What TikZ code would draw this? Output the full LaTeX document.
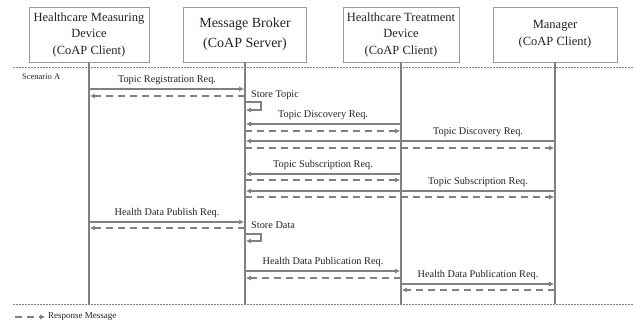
\documentclass[tikz,border=0pt]{standalone}
\usepackage{fontspec}
\setmainfont{Liberation Serif}
\usepackage{xcolor}
\usepackage{tikz}
\usetikzlibrary{arrows.meta}
\definecolor{seqGray}{RGB}{128,128,128}
\definecolor{seqText}{RGB}{35,35,35}
\tikzset{
    devbox/.style={rectangle, draw=seqGray!80, line width=0.7pt, fill=white, align=center,
        text=seqText, minimum height=55pt, inner sep=2pt},
    lifeline/.style={draw=seqGray, line width=1.8pt},
    reqarrow/.style={-{Latex[length=5pt, width=5pt]}, seqGray, line width=1.3pt, shorten >=0.8pt},
    resparrow/.style={-{Latex[length=5pt, width=5pt]}, seqGray, line width=1.8pt,
        dash pattern=on 7pt off 5pt, shorten >=0.8pt},
    msglabel/.style={above=1pt, text=seqText, font=\fontsize{10.3}{12}\selectfont, inner sep=3pt},
    notelabel/.style={anchor=west, text=seqText, inner sep=2pt},
    sepline/.style={seqGray, line width=0.5pt, dash pattern=on 2pt off 1pt},
}

\begin{document}
\begin{tikzpicture}[x=1pt, y=-1pt]
    \useasboundingbox (0,0) rectangle (634,326);

    % participants
    \node[devbox, minimum width=120pt, font=\fontsize{12.5}{16.5}\selectfont] (hmd) at (89,34.5) {Healthcare Measuring\\Device\\(CoAP Client)};
    \node[devbox, minimum width=123pt, font=\fontsize{14}{20}\selectfont] (brk) at (245,34.5) {Message Broker\\(CoAP Server)};
    \node[devbox, minimum width=116pt, font=\fontsize{12.5}{16.5}\selectfont] (hcd) at (401,34.5) {Healthcare Treatment\\Device\\(CoAP Client)};
    \node[devbox, minimum width=124pt, font=\fontsize{12.5}{17}\selectfont] (mgr) at (555,34.5) {Manager\\(CoAP Client)};

    \draw[sepline] (13,67) -- (634,67);
    \draw[sepline] (13,304) -- (634,304);

    \coordinate (seqend) at (0,304);
    \foreach \p in {hmd,brk,hcd,mgr}
        \draw[lifeline] (\p.south) -- (\p.south |- seqend);

    \node[notelabel, font=\fontsize{8.5}{10}\selectfont] (scnA) at (20,77) {Scenario A};

    % topic registration
    \draw[reqarrow] (hmd |- 0,89) -- node[msglabel] {Topic Registration Req.} (brk |- 0,89);
    \draw[resparrow] (brk |- 0,96) -- (hmd |- 0,96);
    \node[notelabel, font=\fontsize{10.3}{12}\selectfont] (sttopic) at (249,95) {Store Topic};
    \draw[reqarrow] (brk |- 0,102) -- ++(16,0) -- ++(0,8) -- (brk |- 0,110);

    % topic discovery
    \draw[reqarrow] (hcd |- 0,124) -- node[msglabel] {Topic Discovery Req.} (brk |- 0,124);
    \draw[resparrow] (brk |- 0,131) -- (hcd |- 0,131);
    \draw[reqarrow] (mgr |- 0,141) -- (brk |- 0,141);
    \path (hcd |- 0,141) -- node[msglabel] {Topic Discovery Req.} (mgr |- 0,141);
    \draw[resparrow] (brk |- 0,148) -- (mgr |- 0,148);

    % topic subscription
    \draw[reqarrow] (hcd |- 0,174) -- node[msglabel] {Topic Subscription Req.} (brk |- 0,174);
    \draw[resparrow] (brk |- 0,180) -- (hcd |- 0,180);
    \draw[reqarrow] (mgr |- 0,191) -- (brk |- 0,191);
    \path (hcd |- 0,191) -- node[msglabel] {Topic Subscription Req.} (mgr |- 0,191);
    \draw[resparrow] (brk |- 0,197) -- (mgr |- 0,197);

    % health data
    \draw[reqarrow] (hmd |- 0,222) -- node[msglabel] {Health Data Publish Req.} (brk |- 0,222);
    \draw[resparrow] (brk |- 0,228) -- (hmd |- 0,228);
    \node[notelabel, font=\fontsize{10.3}{12}\selectfont] (stdata) at (249,225) {Store Data};
    \draw[reqarrow] (brk |- 0,234) -- ++(16,0) -- ++(0,7) -- (brk |- 0,241);
    \draw[reqarrow] (brk |- 0,271) -- node[msglabel] {Health Data Publication Req.} (hcd |- 0,271);
    \draw[resparrow] (hcd |- 0,278) -- (brk |- 0,278);
    \draw[reqarrow] (hcd |- 0,284) -- node[msglabel] {Health Data Publication Req.} (mgr |- 0,284);
    \draw[resparrow] (mgr |- 0,290) -- (hcd |- 0,290);

    % legend
    \node[notelabel, font=\fontsize{9}{11}\selectfont] (lgtext) at (46,317) {Response Message};
    \coordinate (lgstart) at (15,317);
    \draw[resparrow] (lgstart) -- (lgtext.west);
\end{tikzpicture}
\end{document}
